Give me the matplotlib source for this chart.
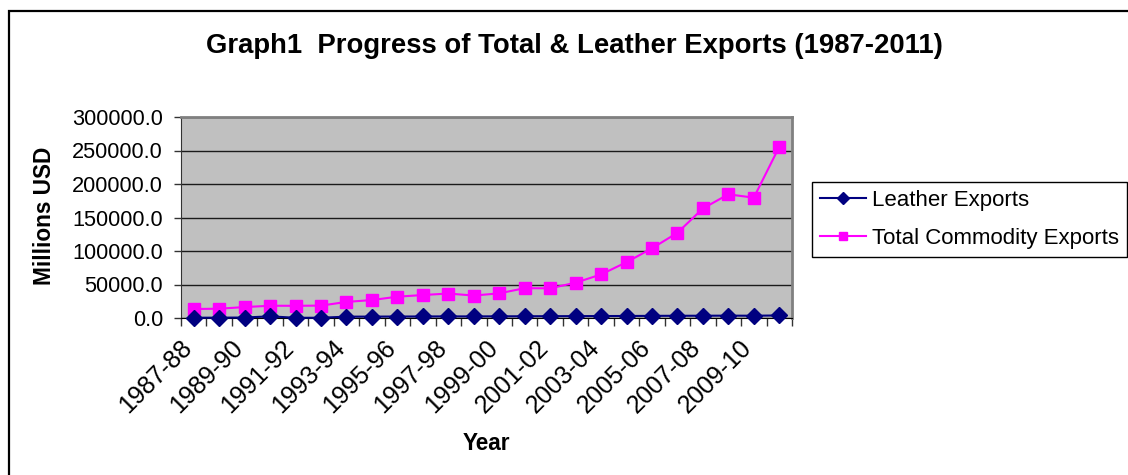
import matplotlib
matplotlib.use("Agg")
import matplotlib.pyplot as plt
from matplotlib.patches import Rectangle
from matplotlib.transforms import ScaledTranslation
from matplotlib.ticker import FixedLocator, FuncFormatter

plt.rcParams['font.family'] = ['Liberation Sans', 'DejaVu Sans']

# Financial years 1987-88 .. 2010-11
years = ["1987-88", "1988-89", "1989-90", "1990-91", "1991-92", "1992-93",
         "1993-94", "1994-95", "1995-96", "1996-97", "1997-98", "1998-99",
         "1999-00", "2000-01", "2001-02", "2002-03", "2003-04", "2004-05",
         "2005-06", "2006-07", "2007-08", "2008-09", "2009-10", "2010-11"]

# Exports, millions USD
leather_exports = [400, 500, 700, 2500, 300, 400, 2000, 2100, 2200, 2300, 2400, 2400,
                   2500, 2600, 2700, 2800, 2900, 3000, 3200, 3300, 3400, 3500, 3400, 3800]
total_exports = [13400, 13900, 16300, 18300, 18200, 18500, 24000, 26800, 31800, 34300,
                 36500, 33500, 36800, 44500, 44300, 52700, 65000, 83300, 104000, 127200,
                 163500, 184600, 179600, 255500]

yticks = [0, 50000, 100000, 150000, 200000, 250000, 300000]

W, H, DPI = 1128, 475, 100
fig = plt.figure(figsize=(W / DPI, H / DPI), dpi=DPI)
fig.patch.set_facecolor("white")

# chart-area frame
fig.patches.append(Rectangle((9 / W, -0.1), 1.2, 1 - 11 / H + 0.1,
                             transform=fig.transFigure, fill=False,
                             edgecolor="black", linewidth=1.6))

left, right, top, bottom = 181, 792, 117, 318
ax = fig.add_axes([left / W, 1 - bottom / H, (right - left) / W, (bottom - top) / H])
ax.set_facecolor("#C0C0C0")

x = list(range(len(years)))
ax.plot(x, leather_exports, color="#000080", marker="D", markersize=8,
        linewidth=1.5, label="Leather Exports", clip_on=False, zorder=4)
ax.plot(x, total_exports, color="#FF00FF", marker="s", markersize=8,
        linewidth=1.5, label="Total Commodity Exports", clip_on=False, zorder=3)

ax.set_xlim(-0.5, len(years) - 0.5)
ax.set_ylim(0, 300000)

ax.yaxis.set_major_locator(FixedLocator(yticks))
ax.yaxis.set_major_formatter(FuncFormatter(lambda v, p: f"{v:.1f}"))
ax.grid(axis="y", color="#1a1a1a", linewidth=1.0)
ax.set_axisbelow(True)
ax.tick_params(axis="y", direction="out", length=5, width=1, labelsize=15.7,
               pad=8, color="#333333")

# category labels every other year; ticks on category boundaries
ax.set_xticks(x[::2])
ax.set_xticklabels(years[::2], rotation=45, ha="right", va="top",
                   rotation_mode="anchor", fontsize=18)
ax.tick_params(axis="x", which="major", length=0, pad=12.5)
ax.set_xticks([i - 0.5 for i in range(len(years) + 1)], minor=True)
ax.tick_params(axis="x", which="minor", direction="out", length=6, width=1,
               color="#333333")
for lab in ax.get_xticklabels():
    lab.set_transform(lab.get_transform() + ScaledTranslation(-14 / DPI, 0, fig.dpi_scale_trans))

for s in ("top", "right"):
    ax.spines[s].set_color("#808080")
    ax.spines[s].set_linewidth(2)
ax.spines["left"].set_color("#333333")
ax.spines["bottom"].set_color("#000000")

ax.set_xlabel("Year", fontsize=16.3, fontweight="bold")
ax.set_ylabel("Millions USD", fontsize=16.3, fontweight="bold")
ax.xaxis.set_label_coords(0.5, -(432 - bottom) / (bottom - top), transform=ax.transAxes)
ax.yaxis.set_label_coords(56 / W, 1 - 216 / H, transform=fig.transFigure)

fig.text(574 / W, 1 - 46 / H, "Graph1  Progress of Total & Leather Exports (1987-2011)",
         ha="center", va="center", fontsize=19.8, fontweight="bold")

leg = fig.legend(loc="upper left", bbox_to_anchor=(812 / W, 1 - 182 / H),
                 bbox_transform=fig.transFigure, fontsize=16, frameon=True,
                 fancybox=False, edgecolor="black", framealpha=1,
                 handlelength=2.1, handletextpad=0.27, borderpad=0.35,
                 labelspacing=0.78, borderaxespad=0, markerscale=0.8)
leg.get_frame().set_linewidth(1.0)

fig.savefig("out.png", dpi=DPI)
